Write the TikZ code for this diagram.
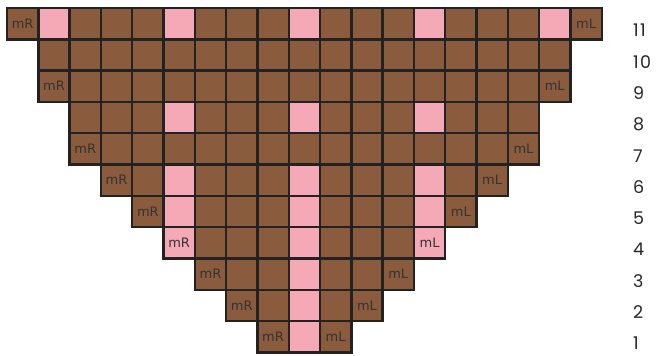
\documentclass[tikz,border=0pt]{standalone}
\usepackage{fontspec}
\newfontfamily\lblfont{DejaVu Sans}
\newfontfamily\numfont[LetterSpace=8]{Poppins}
\definecolor{brownc}{HTML}{8A5B3D}
\definecolor{pinkc}{HTML}{F5A8B6}
\definecolor{edgec}{HTML}{222222}
\definecolor{txtc}{HTML}{333333}
% pink cells (row-col)
\foreach \p in {11-1,11-5,11-9,11-13,11-17,8-5,8-9,8-13,6-5,6-9,6-13,5-5,5-9,5-13,4-5,4-9,4-13,3-9,2-9,1-9}{\expandafter\gdef\csname pk\p\endcsname{}}
% rows with mR / mL labels
\foreach \p in {11,9,7,6,5,4,3,2,1}{\expandafter\gdef\csname lb\p\endcsname{}}
\begin{document}
\begin{tikzpicture}[x=1pt,y=-1pt,
  cell/.style={draw=edgec,line width=2.4pt,minimum size=31.3pt,inner sep=0pt,
    font=\lblfont\fontsize{13}{13}\selectfont,text=txtc},
  rownum/.style={anchor=west,inner sep=0pt,font=\numfont\fontsize{17.5}{17.5}\selectfont,text=black!85}]
\useasboundingbox (0,0) rectangle (670,356);
\foreach \n/\f in {11/0,10/1,9/1,8/2,7/2,6/3,5/4,4/5,3/6,2/7,1/8}{
  \pgfmathtruncatemacro{\l}{18-\f}
  \foreach \c in {\f,...,\l}{
    \ifcsname pk\n-\c\endcsname\def\fc{pinkc}\else\def\fc{brownc}\fi
    \def\txt{}
    \ifcsname lb\n\endcsname
      \ifnum\c=\f\relax\def\txt{mR}\fi
      \ifnum\c=\l\relax\def\txt{mL}\fi
    \fi
    \node[cell,fill=\fc] (c-\n-\c) at ({22.65+31.3*\c},{23.65+31.3*(11-\n)}) {\txt};
  }
  \node[rownum] (num\n) at (633,{30.5+31.3*(11-\n)}) {\n};
}
\end{tikzpicture}
\end{document}
